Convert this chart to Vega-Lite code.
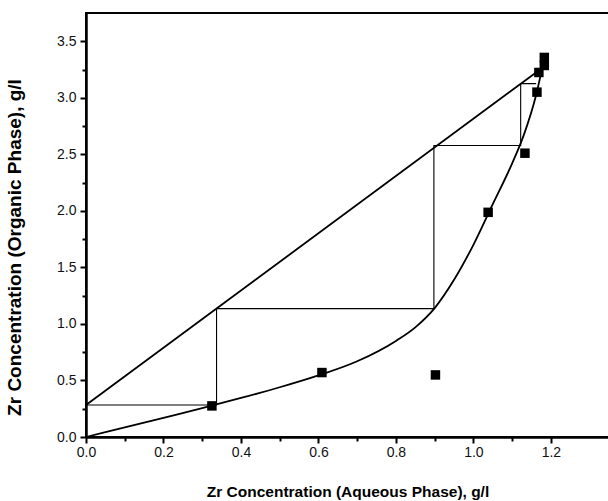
{
  "$schema": "https://vega.github.io/schema/vega-lite/v6.json",
  "autosize": "none",
  "width": 523,
  "height": 424,
  "padding": {"left": 86, "top": 13, "right": 0, "bottom": 64},
  "background": "white",
  "config": {
    "view": {"stroke": "black", "strokeWidth": 2},
    "axis": {
      "domainColor": "black",
      "domainWidth": 2.5,
      "tickColor": "black",
      "tickWidth": 2,
      "labelFont": "Liberation Sans",
      "labelFontSize": 14,
      "labelColor": "#111",
      "labelFlush": false,
      "titleFont": "Liberation Sans",
      "titleFontSize": 15.5,
      "titleFontWeight": "bold",
      "titleColor": "black",
      "grid": false
    }
  },
  "datasets": {
    "opline": [
      {"x": 0, "y": 0.283},
      {"x": 1.168, "y": 3.24}
    ],
    "curve": [
      {"x": 0, "y": 0},
      {"x": 0.1, "y": 0.085},
      {"x": 0.2, "y": 0.17},
      {"x": 0.3, "y": 0.255},
      {"x": 0.4, "y": 0.345},
      {"x": 0.5, "y": 0.44},
      {"x": 0.6, "y": 0.545},
      {"x": 0.7, "y": 0.67},
      {"x": 0.8, "y": 0.85},
      {"x": 0.85, "y": 0.97},
      {"x": 0.9, "y": 1.14},
      {"x": 0.95, "y": 1.39},
      {"x": 1.0, "y": 1.7},
      {"x": 1.05, "y": 2.06},
      {"x": 1.1, "y": 2.42},
      {"x": 1.13, "y": 2.67},
      {"x": 1.16, "y": 3.0},
      {"x": 1.18, "y": 3.3}
    ],
    "stairs": [
      {"i": 1, "x": 0, "y": 0.283},
      {"i": 2, "x": 0.337, "y": 0.283},
      {"i": 3, "x": 0.337, "y": 1.135},
      {"i": 4, "x": 0.898, "y": 1.135},
      {"i": 5, "x": 0.898, "y": 2.578},
      {"i": 6, "x": 1.122, "y": 2.578},
      {"i": 7, "x": 1.122, "y": 3.125},
      {"i": 8, "x": 1.162, "y": 3.125}
    ],
    "points": [
      {"x": 0.325, "y": 0.275},
      {"x": 0.609, "y": 0.57},
      {"x": 0.902, "y": 0.549},
      {"x": 1.038, "y": 1.987},
      {"x": 1.133, "y": 2.51},
      {"x": 1.164, "y": 3.05},
      {"x": 1.169, "y": 3.224},
      {"x": 1.183, "y": 3.286},
      {"x": 1.183, "y": 3.357}
    ]
  },
  "encoding": {
    "x": {
      "field": "x",
      "type": "quantitative",
      "scale": {"domain": [0, 1.35], "nice": false, "zero": false},
      "axis": {
        "title": "Zr Concentration (Aqueous Phase), g/l",
        "values": [0, 0.1, 0.2, 0.3, 0.4, 0.5, 0.6, 0.7, 0.8, 0.9, 1.0, 1.1, 1.2],
        "labelExpr": "round(datum.value*10) % 2 == 0 ? format(datum.value, '.1f') : ''",
        "tickSize": {"condition": {"test": "round(datum.value*10) % 2 == 0", "value": 6}, "value": 4},
        "labelPadding": 2,
        "titleY": 54,
        "titleBaseline": "middle"
      }
    },
    "y": {
      "field": "y",
      "type": "quantitative",
      "scale": {"domain": [0, 3.75], "nice": false, "zero": false},
      "axis": {
        "title": "Zr Concentration (Organic Phase), g/l",
        "titleFontSize": 19,
        "values": [0, 0.25, 0.5, 0.75, 1.0, 1.25, 1.5, 1.75, 2.0, 2.25, 2.5, 2.75, 3.0, 3.25, 3.5],
        "labelExpr": "round(datum.value*4) % 2 == 0 ? format(datum.value, '.1f') : ''",
        "tickSize": {"condition": {"test": "round(datum.value*4) % 2 == 0", "value": 6}, "value": 4},
        "labelPadding": 4,
        "titleX": -72,
        "titleY": 234,
        "titleAngle": 270,
        "titleBaseline": "middle",
        "titleAlign": "center"
      }
    }
  },
  "layer": [
    {
      "data": {"name": "opline"},
      "mark": {"type": "line", "color": "black", "strokeWidth": 1.8}
    },
    {
      "data": {"name": "curve"},
      "mark": {"type": "line", "color": "black", "strokeWidth": 1.8, "interpolate": "monotone"}
    },
    {
      "data": {"name": "stairs"},
      "mark": {"type": "line", "color": "black", "strokeWidth": 1.1},
      "encoding": {"order": {"field": "i", "type": "quantitative"}}
    },
    {
      "data": {"name": "points"},
      "mark": {"type": "square", "color": "black", "filled": true, "opacity": 1, "size": 90}
    }
  ]
}
